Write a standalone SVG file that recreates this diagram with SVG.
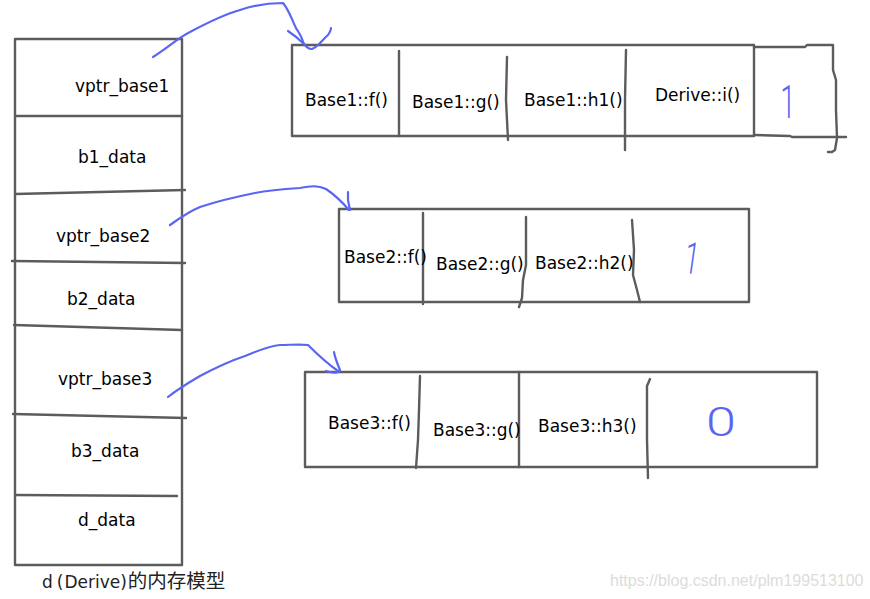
<svg xmlns="http://www.w3.org/2000/svg" width="870" height="599" viewBox="0 0 870 599">
<style>
.ln{fill:none;stroke:#5c5c5c;stroke-width:2.4;stroke-linecap:round;stroke-linejoin:round}
.pen{fill:none;stroke:#5a66f2;stroke-width:2.2;stroke-linecap:round;stroke-linejoin:round}
.t{font-family:"DejaVu Sans","Noto Sans",sans-serif;font-size:17px;fill:#000}
.mark{font-family:Roboto,"Liberation Sans",sans-serif;font-weight:300;fill:#5a66f2;text-anchor:middle}
.cap{font-family:"DejaVu Sans","Noto Sans CJK SC",sans-serif;font-size:17px;fill:#222}
.wm{font-family:"Liberation Sans",Arial,sans-serif;font-size:16px;fill:#dcdcdc}
</style>
<rect width="870" height="599" fill="#fff"/>

<g id="derive-layout">
  <path class="ln" d="M15,39 L182,39 M15,39 L15,565 L182,565 L182,39"/>
  <path class="ln" d="M15,116 L182,116 M15,194 L185,190 M12,261 L185,263 M14,325 L182,330 M13,414 L186,418 M15,495 L177,496"/>
  <text class="t" x="75" y="92">vptr_base1</text>
  <text class="t" x="78" y="163">b1_data</text>
  <text class="t" x="56" y="242">vptr_base2</text>
  <text class="t" x="67" y="305">b2_data</text>
  <text class="t" x="58" y="385">vptr_base3</text>
  <text class="t" x="71" y="457">b3_data</text>
  <text class="t" x="78" y="526">d_data</text>
</g>

<g id="vtable-base1">
  <path class="ln" d="M292,45 L754,45 L754,136 L292,136 Z"/>
  <path class="ln" d="M399,51 L399,136 M507,57 L506,100 L507,120 L508,140 M626,50 L625,100 L625,150"/>
  <path class="ln" d="M754,47 L805,47 L807,45 L833,45 L833,70 L836,80 L836,110 L837,138 L835,150 L832,152 L828,152 M754,135 L790,136 L792,137 L846,137"/>
  <text class="t" x="305" y="106">Base1::f()</text>
  <text class="t" x="412" y="108">Base1::g()</text>
  <text class="t" x="524" y="106">Base1::h1()</text>
  <text class="t" x="655" y="101">Derive::i()</text>
  <text class="mark" x="788" y="118" font-size="46" transform="translate(788,0) scale(0.6,1) translate(-788,0)">1</text>
</g>

<g id="vtable-base2">
  <path class="ln" d="M339,209 L749,209 L749,302 L339,302 Z"/>
  <path class="ln" d="M423,213 L423,304 M526,217 L526,265 L523,280 L522,298 L519,307 M632,220 L634,250 L633,275 L637,290 L640,302"/>
  <text class="t" x="344" y="263">Base2::f()</text>
  <text class="t" x="436" y="270">Base2::g()</text>
  <text class="t" x="535" y="269">Base2::h2()</text>
  <text class="mark" x="692" y="274" font-size="44" transform="rotate(8 694 258) translate(692,0) scale(0.6,1) translate(-692,0)">1</text>
</g>

<g id="vtable-base3">
  <path class="ln" d="M305,372 L817,372 L817,467 L305,467 Z"/>
  <path class="ln" d="M420,376 L419,410 L418,440 L416,468 M519,372 L519,467 M650,379 L647,386 L647,440 L648,478"/>
  <text class="t" x="328" y="429">Base3::f()</text>
  <text class="t" x="433" y="436">Base3::g()</text>
  <text class="t" x="538" y="432">Base3::h3()</text>
  <text class="mark" x="721" y="436" font-size="40" transform="translate(721,0) scale(1.35,1) translate(-721,0)">0</text>
</g>

<g id="connectors">
  <path class="pen" d="M153,57 C170,46 178,38 190,32 C205,24 222,15 240,10 C255,5 270,3 283,3 C289,10 292,20 296,28 C299,33 302,37 303,42 C305,46 308,49 312,49 C318,47 322,40 328,35 C330,32 331,30 331,28"/>
  <path class="pen" d="M288,31 C294,35 299,39 304,44"/>
  <path class="pen" d="M170,225 C180,218 188,212 200,207 C215,202 235,197 255,193 C270,190 285,189 300,188 C310,186 318,185 326,189 C335,195 343,203 349,210"/>
  <path class="pen" d="M348,192 L348,200 L350,210"/>
  <path class="pen" d="M168,397 C178,389 188,383 200,376 C215,368 230,361 245,356 C258,351 268,346 280,345 C290,345 300,344 308,345 C318,355 328,364 338,371"/>
  <path class="pen" d="M334,352 C335,358 337,363 340,370 C338,374 332,373 326,371"/>
</g>

<g id="caption">
  <text class="cap" x="42" y="588">d<tspan dx="4">(</tspan><tspan dx="1">Derive</tspan>)<tspan dx="1" font-size="19.5">的内存模型</tspan></text>
</g>

<text class="wm" x="610" y="586">https://blog.csdn.net/plm199513100</text>
</svg>
